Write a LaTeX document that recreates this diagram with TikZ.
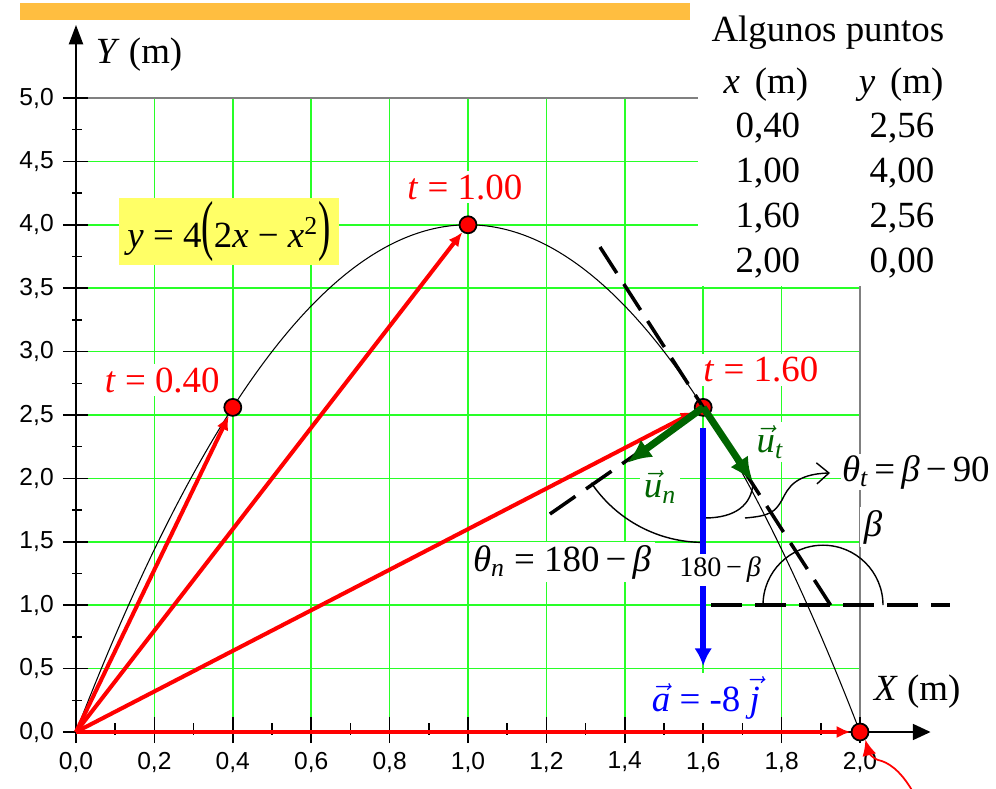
\documentclass[tikz,border=0pt]{standalone}
\usepackage{amsmath}
\usepackage{graphicx}
\usepackage{fontspec}
\setmainfont{Liberation Serif}
\setsansfont{Liberation Sans}
\usetikzlibrary{arrows.meta,positioning}

\definecolor{barorange}{RGB}{255,190,64}
\definecolor{eqyellow}{RGB}{255,255,102}
\definecolor{gridgreen}{RGB}{40,255,40}
\definecolor{vecgreen}{RGB}{0,100,0}

\pgfkeys{/pgf/number format/.cd, fixed, fixed zerofill, precision=1, use comma, assume math mode=true}

\begin{document}
\begin{tikzpicture}[
    lbl/.style={font=\fontsize{21}{25}\selectfont, inner sep=2pt, fill=white},
    ticklabel/.style={font=\fontsize{14}{16}\sffamily, inner sep=0pt},
    pointdot/.style={circle, draw=black, fill=red, line width=1pt,
      minimum size=0.34cm, inner sep=0pt},
    posvec/.style={red, line width=2.3pt, -{Latex[length=8pt,width=7pt]}},
    unitvec/.style={vecgreen, line width=4pt, -{Latex[length=14pt,width=12pt]}},
    accvec/.style={blue, line width=3.4pt, -{Latex[length=10pt,width=10pt]}},
    guideline/.style={line width=2pt, dash pattern=on 0.62cm off 0.26cm},
    anglearc/.style={line width=0.8pt},
    gridline/.style={gridgreen, line width=0.9pt},
    axisline/.style={line width=1.1pt},
    tickline/.style={line width=0.9pt}
  ]
    \useasboundingbox (0,0) rectangle (19.92,15.76);
    \fill[barorange] (0.4,15.36) rectangle (13.8,15.70);

    \begin{scope}[shift={(1.52,1.12)}, x=7.84cm, y=2.536cm]
    % Grid and frame
    \foreach \i in {1,...,9} \draw[gridline] (\i*0.2,0) -- (\i*0.2,5);
    \foreach \i in {1,...,9} \draw[gridline] (0,\i*0.5) -- (2,\i*0.5);
    \draw[gray, line width=0.75pt] (0,5) -- (2,5) -- (2,0);

    % Table of points
    \fill[white] (1.587,3.52) rectangle (2.36,5.80);
    \node[lbl] (title) at (1.918,5.512) {Algunos puntos};
    \node[lbl] (hx) at (1.760,5.103) {\textit{x}\hspace{8.5pt}(m)};
    \node[lbl] (hy) at (2.105,5.103) {\textit{y}\hspace{8.5pt}(m)};
    \foreach \xv/\yv [count=\r] in {{0,40}/{2,56},{1,00}/{4,00},{1,60}/{2,56},{2,00}/{0,00}} {
      \node[lbl] (xv\r) at (1.765,4.763-0.355*\r+0.355) {\xv};
      \node[lbl] (yv\r) at (2.107,4.763-0.355*\r+0.355) {\yv};
    }

    % Trajectory
    \draw[line width=0.6pt] plot[domain=0:2, samples=120, smooth] (\x,{4*(2*\x-\x*\x)});

    % Axes
    \coordinate (O) at (0,0);
    \coordinate (xend) at (2.18,0);
    \coordinate (yend) at (0,5.576);
    \draw[axisline, -{Triangle[length=10pt,width=9pt]}] (O) -- (xend);
    \draw[axisline, -{Triangle[length=11pt,width=8pt]}] (O) -- (yend);
    \foreach \i in {0,...,10} {
      \draw[tickline] (-0.0332,\i*0.5) -- (0.0306,\i*0.5);
      \pgfmathsetmacro\tv{\i*0.5}
      \node[ticklabel, anchor=east] (yt\i) at (-0.056,\i*0.5) {\pgfmathprintnumber{\tv}};
    }
    \foreach \i in {0,...,9} \draw[tickline] (-0.01,\i*0.5+0.25) -- (0.015,\i*0.5+0.25);
    \foreach \i in {0,...,10} {
      \draw[tickline] (\i*0.2,-0.087) -- (\i*0.2,0.118);
      \pgfmathsetmacro\tv{\i*0.2}
      \node[ticklabel] (xt\i) at (\i*0.2,-0.237) {\pgfmathprintnumber{\tv}};
    }
    \foreach \i in {0,...,9} \draw[tickline] (\i*0.2+0.1,-0.02) -- (\i*0.2+0.1,0.071);

    % Points of the trajectory
    \node[pointdot] (p1) at (0.4,2.56) {};
    \node[pointdot] (p2) at (1,4) {};
    \node[pointdot] (p3) at (1.6,2.56) {};
    \node[pointdot] (p4) at (2,0) {};

    % Position vectors
    \draw[posvec] (O) -- (p1);
    \draw[posvec] (O) -- (p2);
    \draw[posvec] (O) -- (p3);
    \draw[posvec] (O) -- (p4);

    % Tangent, normal and horizontal guides
    \coordinate (ttop) at (1.3367,3.8249);
    \coordinate (tbot) at (1.925,1.0);
    \coordinate (nend) at (1.209,1.719);
    \coordinate (hbeg) at (1.62,1.0);
    \coordinate (hend) at (2.23,1.0);
    \draw[guideline] (ttop) -- (tbot);
    \draw[guideline] (nend) -- (p3.center);
    \draw[guideline] (hbeg) -- (hend);

    % Angles
    \draw[anglearc] (p3.center) ++(214:2.7cm) arc[start angle=214, end angle=270, radius=2.7cm];
    \coordinate (sa1) at (1.605,1.688);
    \coordinate (sa2) at (1.727,1.964);
    \draw[anglearc] (sa1) .. controls (1.681,1.688) and (1.724,1.79) .. (sa2);
    \coordinate (bc) at (1.9056,1.0);
    \draw[anglearc] (bc) ++(0:1.2cm) arc[start angle=0, end angle=180, radius=1.2cm];
    \coordinate (w0) at (1.7066,1.6877);
    \coordinate (wtip) at (1.9235,2.0426);
    \draw[anglearc, -{Straight Barb[length=7pt,width=12pt]}] (w0)
      .. controls (1.7704,1.7035) and (1.7832,1.735) .. (1.801,1.8297)
      .. controls (1.8163,1.9243) and (1.8342,2.0347) .. (wtip);

    % Unit vectors and acceleration
    \coordinate (untip) at (1.4056,2.1215);
    \coordinate (uttip) at (1.7270,1.9716);
    \draw[unitvec] (p3.center) -- (untip);
    \draw[unitvec] (p3.center) -- (uttip);
    \coordinate (atop) at (1.6,2.397);
    \coordinate (abot) at (1.6,0.52);
    \draw[accvec] (atop) -- (abot);

    % Pointer to the landing point
    \coordinate (rtail) at (2.1327,-0.46);
    \draw[red, line width=1pt, -{Latex[length=9pt,width=8pt]}] (rtail)
      .. controls (2.102,-0.2997) and (2.0714,-0.2366) .. (2.0459,-0.2208)
      .. controls (2.0255,-0.1972) and (2.0204,-0.142) .. (p4.-55);

    % Labels
    \node[lbl, anchor=west] (ylab) at (0.041,5.34) {\textit{Y} (m)};
    \node[lbl, anchor=west] (xlab) at (2.026,0.315) {\textit{X} (m)};
    \node[lbl, fill=eqyellow, minimum width=4.4cm, minimum height=1.22cm] (eq) at (0.390,3.947)
      {\textit{y} = 4\scalebox{1}[1.8]{(}2\textit{x} − \textit{x}\textsuperscript{2}\scalebox{1}[1.8]{)}};
    \node[lbl, text=red] (lt1) at (0.22,2.776) {\textit{t} = 0.40};
    \node[lbl, text=red] (lt2) at (0.992,4.298) {\textit{t} = 1.00};
    \node[lbl, text=red] (lt3) at (1.747,2.855) {\textit{t} = 1.60};
    \node[lbl, text=vecgreen] (lut) at (1.770,2.287) {$\vec{\textit{u}}_{\textit{t}}$};
    \node[lbl, text=vecgreen] (lun) at (1.490,1.932) {$\vec{\textit{u}}_{\textit{n}}$};
    \node[lbl, anchor=east, inner sep=0.5pt] (lthetat) at (2.334,2.05)
      {$\textit{θ}_{\textit{t}}$\,=\,\textit{β}\,−\,90};
    \node[lbl] (lbeta) at (2.033,1.617) {\textit{β}};
    \node[lbl] (lthetan) at (1.240,1.341) {$\textit{θ}_{\textit{n}}$ = 180\,−\,\textit{β}};
    \node[lbl, font=\fontsize{16}{18}\selectfont] (lsmall) at (1.643,1.278) {180\,−\,\textit{β}};
    \node[lbl, text=blue] (lacc) at (1.607,0.268) {$\vec{\textit{a}}$ = -8 $\vec{\textit{j}}$};
    \end{scope}
\end{tikzpicture}
\end{document}
